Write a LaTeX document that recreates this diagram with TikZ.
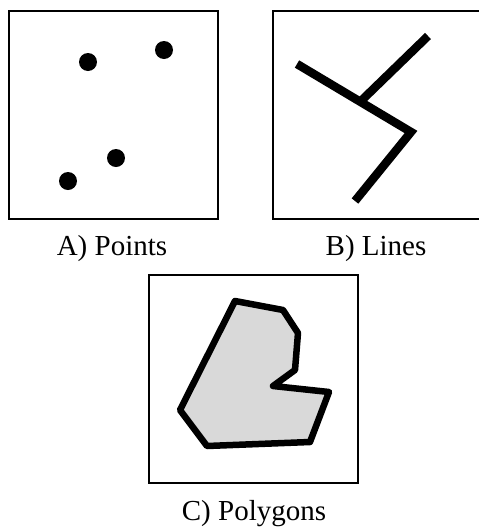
\documentclass[tikz,border=0pt]{standalone}
\usepackage{fontspec}
\setmainfont{Liberation Serif}
\definecolor{polyfill}{HTML}{D9D9D9}
\usetikzlibrary{positioning}

\begin{document}
\begin{tikzpicture}[x=1pt, y=-1pt,
  every node/.style={font=\fontsize{29}{34}\selectfont},
  frame/.style={draw, line width=2.2pt},
  dot/.style={fill=black},
  stroke/.style={line width=8.5pt},
  outline/.style={draw, line width=6.5pt, line join=round, fill=polyfill},
  caption/.style={anchor=base, inner sep=0pt},
]
  \useasboundingbox (0,0) rectangle (479,531);

  % A) Points
  \draw[frame] (9,11) rectangle (218,219);
  \fill[dot] (88,62) circle (9pt);
  \fill[dot] (164,50) circle (9pt);
  \fill[dot] (116,158) circle (9pt);
  \fill[dot] (68,181) circle (9pt);
  \node[caption] (capA) at (112,255) {A) Points};

  % B) Lines
  \draw[frame] (273,11) rectangle (484,219);
  \coordinate (b1) at (297,64);
  \coordinate (bj) at (362,100);
  \coordinate (bk) at (411,132);
  \coordinate (b3) at (355,201);
  \coordinate (b4) at (428,36);
  \draw[stroke] (b1) -- (bk) -- (b3);
  \draw[stroke] (bj) -- (b4);
  \node[caption] (capB) at (376,255) {B) Lines};

  % C) Polygons
  \draw[frame] (149,275) rectangle (358,483);
  \draw[outline] (235,301) -- (283,310) -- (298,333) -- (295,370)
    -- (273,386) -- (329,392) -- (310,442) -- (207,446) -- (180,410) -- cycle;
  \node[caption] (capC) at (254,520) {C) Polygons};
\end{tikzpicture}
\end{document}
